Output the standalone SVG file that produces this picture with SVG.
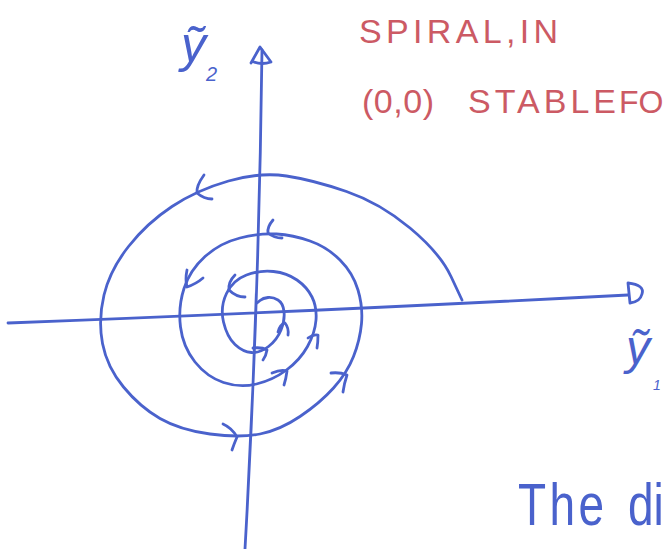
<svg xmlns="http://www.w3.org/2000/svg" width="664" height="549" viewBox="0 0 664 549">
<style>
.ink{fill:none;stroke:#4a62cc;stroke-width:2.8;stroke-linecap:round;stroke-linejoin:round}
.blue{fill:#4a62cc;font-family:"Liberation Sans",Arial,sans-serif}
.red{fill:#cc5a64;font-family:"Liberation Sans",Arial,sans-serif;font-size:34px}
</style>
<rect width="664" height="549" fill="#ffffff"/>
<g id="axes">
<path class="ink" d="M 8 323 Q 300 312 628 295"/>
<path class="ink" d="M 628 283 L 630 303 M 628 283 Q 645 285 642 294 Q 640 302 630 303"/>
<path class="ink" d="M 262 50 Q 259 300 245 549"/>
<path class="ink" d="M 251 63 L 260 47 L 271 62 Q 262 65 254 62"/>
</g>
<g id="spiral">
<path class="ink" d="M 462 300 L 451 276.5 Q 440 253 410 228 Q 380 203 346.5 191.5 Q 313 180 286.5 176 Q 260 172 228.5 181 Q 197 190 172 206.5 Q 147 223 128.5 246.5 Q 110 270 104 295 Q 98 320 102.5 343.5 Q 107 367 123.5 387 Q 140 407 160 418.5 Q 180 430 210 434 Q 240 438 260 434 Q 280 430 300 416.5 Q 320 403 333.5 388 Q 347 373 353.5 356.5 Q 360 340 361.5 323.5 Q 363 307 358 290 Q 353 273 340 260 Q 327 247 310 241 Q 293 235 276.5 234 Q 260 233 240 238 Q 220 243 205 256.5 Q 190 270 184 288.5 Q 178 307 180.5 327 Q 183 347 195 362 Q 207 377 223.5 382.5 Q 240 388 256.5 384 Q 273 380 286.5 370 Q 300 360 307.5 346.5 Q 315 333 316 320 Q 317 307 312 297 Q 307 287 297 280 Q 287 273 273.5 271.5 Q 260 270 246.5 275 Q 233 280 226.5 293.5 Q 220 307 223.5 322 Q 227 337 235 344.5 Q 243 352 251.5 352.5 Q 260 353 268.5 346.5 Q 277 340 281 330 Q 285 320 284 311.5 Q 283 303 278 300 Q 273 297 268 297.5 Q 263 298 260 300.5 L 257 303"/>
</g>
<g id="arrows">
<path class="ink" d="M 204 175 Q 196 186 197 193 Q 204 199 212 199"/>
<path class="ink" d="M 273 220 Q 267 227 268 233 Q 274 238 282 238"/>
<path class="ink" d="M 187 270 Q 185 280 187 287 Q 196 284 203 278"/>
<path class="ink" d="M 235 275 Q 228 282 229 290 Q 236 297 245 297"/>
<path class="ink" d="M 278 332 Q 280 324 285 323 Q 289 328 288 335"/>
<path class="ink" d="M 253 348 Q 262 347 267 350 Q 266 356 263 360"/>
<path class="ink" d="M 308 338 Q 313 334 318 335 Q 318 342 317 348"/>
<path class="ink" d="M 272 373 Q 281 369 287 371 Q 286 379 284 385"/>
<path class="ink" d="M 331 373 Q 340 372 347 375 Q 344 384 343 392"/>
<path class="ink" d="M 223 424 Q 232 428 237 437 Q 234 444 232 450"/>
</g>
<g id="label-y2">
<text class="blue" x="181" y="62" font-size="50" font-style="italic">ỹ</text>
<text class="blue" x="206" y="81" font-size="20" font-style="italic">2</text>
</g>
<g id="label-y1">
<text class="blue" x="626" y="364" font-size="48" font-style="italic">ỹ</text>
<text class="blue" x="653" y="390" font-size="14" font-style="italic">1</text>
</g>
<g id="title">
<text class="red" x="359" y="43" textLength="199" lengthAdjust="spacing">SPIRAL,IN</text>
<text class="red" y="113"><tspan x="362" textLength="72" lengthAdjust="spacing">(0,0)</tspan> <tspan x="468" textLength="148" lengthAdjust="spacing">STABLE</tspan> <tspan x="619" font-size="32">FO</tspan></text>
</g>
<g id="caption">
<text class="blue" font-size="46" transform="translate(518 525) scale(1 1.27)"><tspan x="0" textLength="86" lengthAdjust="spacing">The</tspan> <tspan x="110">di</tspan></text>
</g>
</svg>
